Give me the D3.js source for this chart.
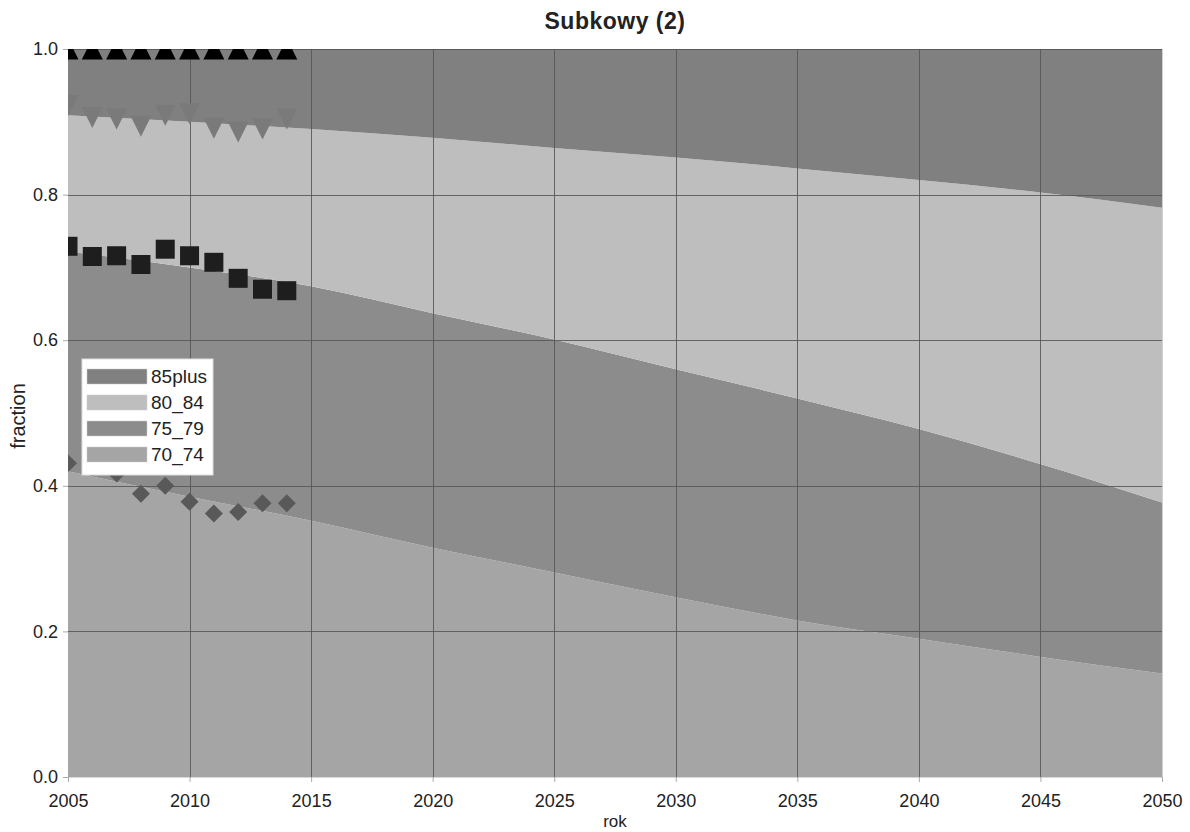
<!DOCTYPE html>
<html>
<head>
<meta charset="utf-8">
<script src="https://cdn.jsdelivr.net/npm/d3@7"></script>
<style>
body { margin: 0; background: #fff; }
text { font-family: "Liberation Sans", Arial, sans-serif; fill: #222; }
</style>
</head>
<body>
<div id="chart"></div>
<script>
//////////////////////////////////////////////////////////////////////////////
// Data

var groups = ["70_74", "75_79", "80_84", "85plus"];
var groupColors = ["#a5a5a5", "#8c8c8c", "#bebebe", "#808080"];

// projection, fractions per age group (every 5 years)
var years = [2005, 2010, 2015, 2020, 2025, 2030, 2035, 2040, 2045, 2050];
var share70_74 = [0.420, 0.385, 0.352, 0.315, 0.281, 0.247, 0.215, 0.190, 0.165, 0.142];
var share75_79 = [0.302, 0.315, 0.322, 0.322, 0.320, 0.313, 0.305, 0.288, 0.265, 0.235];
var share80_84 = [0.187, 0.200, 0.216, 0.241, 0.263, 0.291, 0.316, 0.342, 0.373, 0.405];
var share85plus = [0.091, 0.100, 0.110, 0.122, 0.136, 0.149, 0.164, 0.180, 0.197, 0.218];

// observed cumulative fractions
var obsYears = [2005, 2006, 2007, 2008, 2009, 2010, 2011, 2012, 2013, 2014];
var obs70_74 = [0.431, 0.425, 0.417, 0.389, 0.400, 0.378, 0.362, 0.364, 0.376, 0.376];
var obs75_79 = [0.729, 0.715, 0.716, 0.704, 0.725, 0.716, 0.707, 0.685, 0.670, 0.668];
var obs80_84 = [0.922, 0.906, 0.904, 0.894, 0.909, 0.911, 0.891, 0.886, 0.890, 0.904];
var obs85plus = [1, 1, 1, 1, 1, 1, 1, 1, 1, 1];

var xTicks = [2005, 2010, 2015, 2020, 2025, 2030, 2035, 2040, 2045, 2050];
var yTicks = [0, 0.2, 0.4, 0.6, 0.8, 1.0];

//////////////////////////////////////////////////////////////////////////////
// Setup

var svgWidth = 1190, svgHeight = 832;
var plotLeft = 68, plotRight = 1162, plotTop = 49, plotBottom = 777;

var xScale = d3.scaleLinear().domain([2005, 2050]).range([plotLeft, plotRight]);
var yScale = d3.scaleLinear().domain([0, 1]).range([plotBottom, plotTop]);

var svg = d3.select("#chart").append("svg")
    .attr("width", svgWidth)
    .attr("height", svgHeight);

svg.append("defs").append("clipPath").attr("id", "plotclip")
    .append("rect")
    .attr("x", plotLeft).attr("y", plotTop)
    .attr("width", plotRight - plotLeft).attr("height", plotBottom - plotTop);

var rows = years.map(function(y, i) {
    return { year: y, "70_74": share70_74[i], "75_79": share75_79[i],
             "80_84": share80_84[i], "85plus": share85plus[i] };
});
var series = d3.stack().keys(groups)(rows);

var area = d3.area()
    .curve(d3.curveMonotoneX)
    .x(function(d) { return xScale(d.data.year); })
    .y0(function(d) { return yScale(d[0]); })
    .y1(function(d) { return yScale(d[1]); });

svg.append("g").selectAll("path")
    .data(series)
    .enter().append("path")
    .attr("d", area)
    .attr("fill", function(d, i) { return groupColors[i]; });

// frame (light) on right and bottom
svg.append("line").attr("x1", plotRight + 0.5).attr("x2", plotRight + 0.5)
    .attr("y1", plotTop).attr("y2", plotBottom)
    .attr("stroke", "#d0d0d0");
svg.append("line").attr("x1", plotLeft).attr("x2", plotRight)
    .attr("y1", plotBottom + 0.5).attr("y2", plotBottom + 0.5)
    .attr("stroke", "#d8d8d8");

// grid
var grid = svg.append("g").attr("stroke", "#555").attr("stroke-opacity", 0.85);
grid.selectAll(".gx").data(xTicks.filter(function(t) { return t > 2005 && t < 2050; }))
    .enter().append("line")
    .attr("x1", function(d) { return Math.round(xScale(d)) + 0.5; })
    .attr("x2", function(d) { return Math.round(xScale(d)) + 0.5; })
    .attr("y1", plotTop).attr("y2", plotBottom);
grid.selectAll(".gy").data(yTicks.filter(function(t) { return t > 0; }))
    .enter().append("line")
    .attr("x1", plotLeft).attr("x2", plotRight)
    .attr("y1", function(d) { return Math.round(yScale(d)) + 0.5; })
    .attr("y2", function(d) { return Math.round(yScale(d)) + 0.5; });

// axes
var xAxis = svg.append("g")
    .attr("transform", "translate(0," + plotBottom + ")")
    .call(d3.axisBottom(xScale).tickValues(xTicks).tickFormat(d3.format("d")).tickSize(5).tickPadding(12));
var yAxis = svg.append("g")
    .attr("transform", "translate(" + plotLeft + ",0)")
    .call(d3.axisLeft(yScale).tickValues(yTicks).tickFormat(d3.format(".1f")).tickSize(5).tickPadding(5));
[xAxis, yAxis].forEach(function(ax) {
    ax.select(".domain").remove();
    ax.selectAll(".tick line").attr("stroke", "#aaa");
    ax.selectAll(".tick text").attr("font-size", 18)
        .attr("font-family", "Liberation Sans, Arial, sans-serif").attr("fill", "#222");
});

//////////////////////////////////////////////////////////////////////////////
// Observed markers

function markerPath(shape, s) {
    var h = s / 2;
    switch (shape) {
        case "up": return "M0 " + (-h) + " L" + h + " " + h + " L" + (-h) + " " + h + " Z";
        case "down": return "M0 " + h + " L" + h + " " + (-h) + " L" + (-h) + " " + (-h) + " Z";
        case "square": return "M" + (-h) + " " + (-h) + " H" + h + " V" + h + " H" + (-h) + " Z";
        case "diamond": return "M0 " + (-h) + " L" + h + " 0 L0 " + h + " L" + (-h) + " 0 Z";
    }
}

var markerSets = [
    { values: obs70_74, shape: "diamond", size: 18, color: "#595959" },
    { values: obs75_79, shape: "square", size: 19, color: "#1e1e1e" },
    { values: obs80_84, shape: "down", size: 21, color: "#7a7a7a" },
    { values: obs85plus, shape: "up", size: 21, color: "#000" }
];

var markers = svg.append("g").attr("clip-path", "url(#plotclip)");
markerSets.forEach(function(m) {
    markers.append("g").selectAll("path")
        .data(m.values)
        .enter().append("path")
        .attr("transform", function(d, i) {
            return "translate(" + xScale(obsYears[i]) + "," + yScale(d) + ")";
        })
        .attr("d", markerPath(m.shape, m.size))
        .attr("fill", m.color);
});

//////////////////////////////////////////////////////////////////////////////
// Legend

var legend = svg.append("g").attr("transform", "translate(82,359)");
legend.append("rect")
    .attr("width", 131).attr("height", 116)
    .attr("fill", "#fff").attr("stroke", "#ddd");
var legendOrder = ["85plus", "80_84", "75_79", "70_74"];
var item = legend.selectAll(".item").data(legendOrder)
    .enter().append("g")
    .attr("transform", function(d, i) { return "translate(5," + (10 + i * 26) + ")"; });
item.append("rect")
    .attr("width", 60).attr("height", 15)
    .attr("fill", function(d) { return groupColors[groups.indexOf(d)]; })
    .attr("stroke", "#ccc").attr("stroke-width", 0.5);
item.append("text")
    .attr("x", 64).attr("y", 14)
    .attr("font-size", 19)
    .text(function(d) { return d; });

//////////////////////////////////////////////////////////////////////////////
// Titles

svg.append("text")
    .attr("x", 615).attr("y", 29)
    .attr("text-anchor", "middle")
    .attr("font-size", 23)
    .attr("font-weight", "bold")
    .attr("letter-spacing", 0.5)
    .text("Subkowy (2)");

svg.append("text")
    .attr("x", 615).attr("y", 827)
    .attr("text-anchor", "middle")
    .attr("font-size", 17)
    .text("rok");

svg.append("text")
    .attr("transform", "translate(25,416) rotate(-90)")
    .attr("text-anchor", "middle")
    .attr("font-size", 20)
    .text("fraction");
</script>
</body>
</html>
